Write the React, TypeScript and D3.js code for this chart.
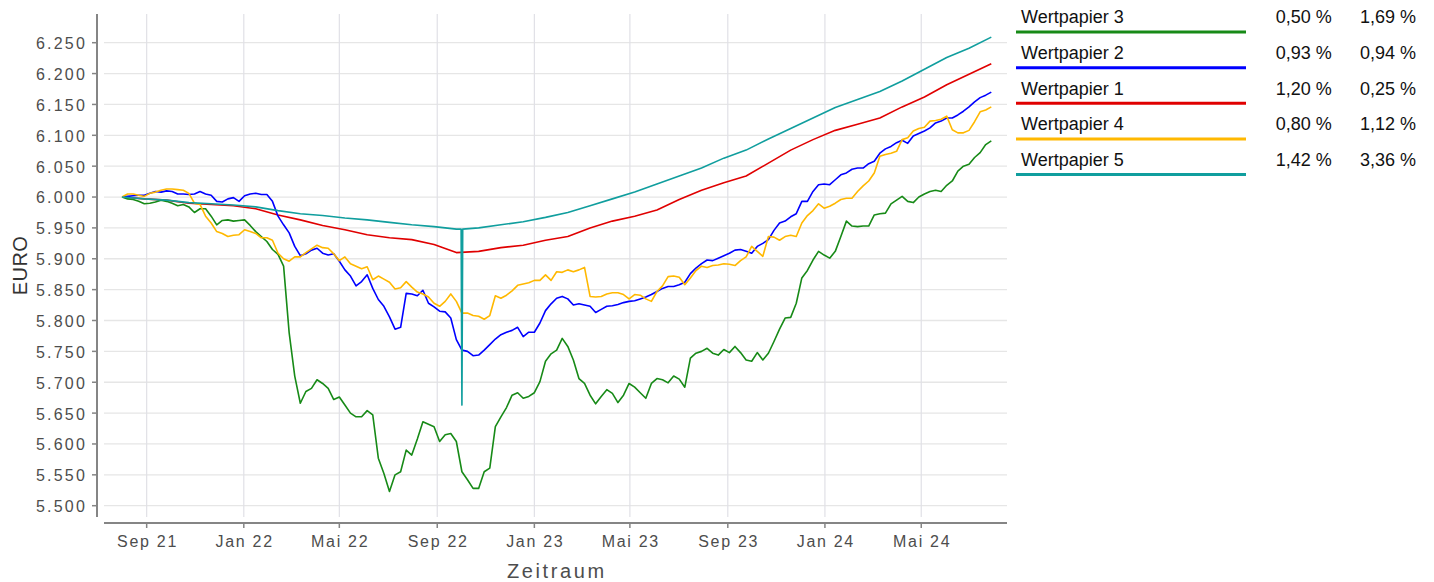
import * as d3 from "d3";

// legend rows (top to bottom)
const names = ["Wertpapier 3", "Wertpapier 2", "Wertpapier 1", "Wertpapier 4", "Wertpapier 5"];
const colors = ["#178a17", "#0000ff", "#e00000", "#ffb800", "#109e9e"];
const col1 = ["0,50 %", "0,93 %", "1,20 %", "0,80 %", "1,42 %"];
const col2 = ["1,69 %", "0,94 %", "0,25 %", "1,12 %", "3,36 %"];

const firstDate = "2021-08-01";

// weekly values (EUR)
const green = [
  6000, 5997, 5996, 5993, 5989, 5990, 5992, 5995, 5993, 5990,
  5986, 5988, 5984, 5975, 5981, 5981, 5969, 5955, 5962, 5963,
  5961, 5962, 5963, 5954, 5944, 5936, 5928, 5915, 5907, 5888,
  5780, 5710, 5666, 5685, 5690, 5704, 5698, 5690, 5672, 5676,
  5663, 5650, 5644, 5644, 5654, 5647, 5577, 5552, 5523, 5550,
  5555, 5590, 5582, 5608, 5636, 5632, 5628, 5604, 5615, 5617,
  5604, 5555, 5542, 5528, 5528, 5555, 5561, 5628, 5644, 5659,
  5679, 5683, 5674, 5677, 5683, 5701, 5734, 5746, 5752, 5771,
  5758, 5736, 5706, 5698, 5679, 5665, 5677, 5688, 5682, 5667,
  5679, 5698, 5692, 5683, 5674, 5698, 5706, 5704, 5699, 5710,
  5705, 5692, 5739, 5747, 5750, 5755, 5747, 5744, 5753, 5748,
  5758, 5748, 5736, 5734, 5748, 5736, 5747, 5766, 5786, 5804,
  5805, 5828, 5869, 5881, 5898, 5912, 5906, 5901, 5912, 5936,
  5961, 5953, 5952, 5953, 5953, 5971, 5973, 5974, 5989, 5995,
  6001, 5993, 5991, 6000, 6005, 6009, 6011, 6009, 6019, 6026,
  6042, 6050, 6053, 6064, 6072, 6085, 6091,
];

const blue = [
  6000, 6001, 6002, 6003, 6003, 6006, 6009, 6008, 6010, 6009,
  6005, 6005, 6004, 6005, 6009, 6005, 6003, 5993, 5992, 5997,
  5999, 5993, 6002, 6005, 6006, 6004, 6004, 5993, 5969, 5955,
  5942, 5920, 5905, 5908, 5914, 5917, 5909, 5906, 5908, 5896,
  5882, 5872, 5856, 5863, 5874, 5852, 5834, 5823, 5806, 5786,
  5789, 5844, 5843, 5840, 5849, 5828, 5822, 5815, 5814, 5804,
  5769, 5752, 5750, 5743, 5744, 5752, 5761, 5770, 5777, 5781,
  5784, 5789, 5774, 5781, 5781, 5796, 5816, 5827, 5836, 5839,
  5835, 5825, 5827, 5825, 5823, 5813, 5818, 5823, 5824, 5826,
  5829, 5831, 5832, 5835, 5838, 5842, 5847, 5852, 5855, 5855,
  5858, 5862, 5876, 5885, 5892, 5898, 5897, 5901, 5905, 5909,
  5914, 5915, 5912, 5909, 5920, 5925, 5931, 5946, 5958, 5961,
  5968, 5973, 5993, 5993, 6009, 6020, 6021, 6020, 6028, 6036,
  6039, 6045, 6047, 6047, 6054, 6058, 6071, 6078, 6082, 6088,
  6092, 6087, 6099, 6103, 6107, 6112, 6120, 6123, 6128, 6128,
  6133, 6139, 6146, 6154, 6161, 6165, 6170,
];

const yellow = [
  6000, 6005, 6005, 6003, 6001, 6006, 6008, 6011, 6013, 6013,
  6012, 6011, 6006, 5990, 5988, 5969, 5958, 5944, 5941, 5936,
  5938, 5939, 5947, 5944, 5941, 5934, 5934, 5930, 5909, 5900,
  5896, 5903, 5903, 5910, 5916, 5922, 5918, 5917, 5908, 5897,
  5903, 5892, 5888, 5884, 5887, 5866, 5872, 5867, 5862, 5851,
  5853, 5863, 5854, 5846, 5843, 5838, 5828, 5823, 5831, 5843,
  5831, 5812, 5812, 5808, 5807, 5802, 5808, 5840, 5836, 5841,
  5848, 5857, 5859, 5861, 5865, 5865, 5874, 5865, 5879, 5878,
  5882, 5879, 5882, 5886, 5839, 5838, 5839, 5843, 5845, 5845,
  5842, 5835, 5842, 5841, 5835, 5831, 5847, 5856, 5871, 5872,
  5870, 5858, 5869, 5881, 5888, 5886, 5889, 5890, 5892, 5891,
  5889, 5897, 5903, 5920, 5912, 5904, 5936, 5935, 5930, 5936,
  5938, 5936, 5958, 5970, 5978, 5989, 5982, 5985, 5990, 5996,
  5998, 5998, 6009, 6018, 6026, 6039, 6066, 6069, 6071, 6074,
  6093, 6096, 6107, 6111, 6113, 6123, 6124, 6126, 6131, 6109,
  6104, 6104, 6108, 6122, 6138, 6141, 6146,
];

// every 4 weeks (smooth series)
const red = [
  6000, 5997, 5995, 5990, 5988, 5986, 5981, 5971, 5963, 5954,
  5947, 5939, 5934, 5931, 5923, 5910, 5912, 5918, 5922, 5930,
  5936, 5950, 5961, 5969, 5979, 5996, 6011, 6023, 6034, 6055,
  6076, 6093, 6108, 6118, 6128, 6146, 6162, 6182, 6199, 6216,
];

const teal = [
  6000, 5997, 5995, 5991, 5989, 5987, 5984, 5978, 5973, 5970,
  5966, 5963, 5959, 5955, 5952, 5948, 5950, 5955, 5960, 5967,
  5975, 5986, 5997, 6008, 6021, 6034, 6047, 6063, 6076, 6094,
  6111, 6128, 6145, 6158, 6171, 6188, 6207, 6226, 6241, 6259,
];

// one-day outlier in Wertpapier 5
const tealSpikeDates = ["2022-10-01", "2022-10-02", "2022-10-03"];
const tealSpikeValues = [5948, 5663, 5948];

const yTicks = [5500, 5550, 5600, 5650, 5700, 5750, 5800, 5850, 5900, 5950, 6000, 6050, 6100, 6150, 6200, 6250];
const xTicks = ["2021-09-01", "2022-01-01", "2022-05-01", "2022-09-01", "2023-01-01", "2023-05-01", "2023-09-01", "2024-01-01", "2024-05-01"];

const parseDate = d3.timeParse("%Y-%m-%d");

const deTime = d3.timeFormatLocale({
  dateTime: "%A, der %e. %B %Y, %X",
  date: "%d.%m.%Y",
  time: "%H:%M:%S",
  periods: ["AM", "PM"],
  days: ["Sonntag", "Montag", "Dienstag", "Mittwoch", "Donnerstag", "Freitag", "Samstag"],
  shortDays: ["So", "Mo", "Di", "Mi", "Do", "Fr", "Sa"],
  months: ["Januar", "Februar", "März", "April", "Mai", "Juni", "Juli", "August", "September", "Oktober", "November", "Dezember"],
  shortMonths: ["Jan", "Feb", "Mär", "Apr", "Mai", "Jun", "Jul", "Aug", "Sep", "Okt", "Nov", "Dez"],
});
const fmtMonth = deTime.format("%b %y");
const fmtEuro = d3.formatLocale({ decimal: ",", thousands: ".", grouping: [3], currency: ["", " €"] }).format(",d");

type Pt = { date: Date; value: number };

export default function App() {
  const W = 1434;
  const H = 582;
  const start = parseDate(firstDate) as Date;

  const every = (vals: number[], step: number): Pt[] =>
    vals.map((v, i) => ({ date: d3.timeDay.offset(start, i * step), value: v }));

  const tealPts = every(teal, 28)
    .concat(tealSpikeDates.map((d, i) => ({ date: parseDate(d) as Date, value: tealSpikeValues[i] })))
    .sort((a, b) => +a.date - +b.date);

  // same order as legend rows
  const series: Pt[][] = [every(green, 7), every(blue, 7), every(red, 28), every(yellow, 7), tealPts];
  const drawOrder = [2, 1, 0, 3, 4];

  const lastDate = d3.timeDay.offset(start, (green.length - 1) * 7);
  const x = d3.scaleTime().domain([start, lastDate]).range([122, 991.3]);
  const y = d3.scaleLinear().domain([5500, 6250]).range([505.7, 42.7]);

  const line = d3
    .line<Pt>()
    .x((d) => x(d.date))
    .y((d) => y(d.value));

  // panel edges
  const left = 104;
  const right = 1007;
  const top = 14;
  const bottom = 517;
  const yAxisX = 97;
  const xAxisY = 523;

  const axisColor = "#858585";
  const labelColor = "#4d4d4d";

  return (
    <svg
      width={W}
      height={H}
      style={{ position: "absolute", left: 0, top: 0, background: "#fff" }}
      fontFamily="'Liberation Sans', Arial, sans-serif"
    >
      {/* grid */}
      {yTicks.map((t) => (
        <line key={"gy" + t} x1={left} x2={right} y1={y(t)} y2={y(t)} stroke="#e6e6e6" strokeWidth={1.3} />
      ))}
      {xTicks.map((t) => {
        const xx = x(parseDate(t) as Date);
        return <line key={"gx" + t} x1={xx} x2={xx} y1={top} y2={bottom} stroke="#e0e0e6" strokeWidth={1.2} />;
      })}

      {/* lines */}
      {drawOrder.map((k) => (
        <path key={"s" + k} d={line(series[k]) || ""} fill="none" stroke={colors[k]} strokeWidth={1.6} strokeLinejoin="round" />
      ))}

      {/* y axis */}
      <line x1={yAxisX} x2={yAxisX} y1={top} y2={bottom} stroke={axisColor} strokeWidth={2} />
      {yTicks.map((t) => (
        <g key={"ty" + t}>
          <line x1={yAxisX - 5} x2={yAxisX} y1={y(t)} y2={y(t)} stroke={axisColor} strokeWidth={1.5} />
          <text
            x={87}
            y={y(t)}
            dy="0.4em"
            textAnchor="end"
            fontSize={16}
            letterSpacing={2.2}
            fill={labelColor}
          >
            {fmtEuro(t)}
          </text>
        </g>
      ))}
      <text
        transform={`translate(27, ${(top + bottom) / 2}) rotate(-90)`}
        textAnchor="middle"
        fontSize={20}
        fill="#333"
        letterSpacing={0.4}
      >
        EURO
      </text>

      {/* x axis */}
      <line x1={left} x2={right} y1={xAxisY} y2={xAxisY} stroke={axisColor} strokeWidth={2} />
      {xTicks.map((t) => {
        const d = parseDate(t) as Date;
        const xx = x(d);
        return (
          <g key={"tx" + t}>
            <line x1={xx} x2={xx} y1={xAxisY} y2={xAxisY + 5} stroke={axisColor} strokeWidth={1.5} />
            <text x={xx + 0.9} y={547} textAnchor="middle" fontSize={16} letterSpacing={1.7} fill={labelColor}>
              {fmtMonth(d)}
            </text>
          </g>
        );
      })}
      <text x={(left + right) / 2 + 1.3} y={578} textAnchor="middle" fontSize={20} letterSpacing={2.6} fill={labelColor}>
        Zeitraum
      </text>

      {/* legend table */}
      {names.map((n, i) => {
        const base = 23.3 + i * 35.6;
        return (
          <g key={"lg" + i}>
            <text x={1021} y={base} fontSize={18} fill="#111">
              {n}
            </text>
            <line x1={1016} x2={1246} y1={base + 8.8} y2={base + 8.8} stroke={colors[i]} strokeWidth={3} />
            <text x={1331.7} y={base} textAnchor="end" fontSize={18} fill="#111">
              {col1[i]}
            </text>
            <text x={1416} y={base} textAnchor="end" fontSize={18} fill="#111">
              {col2[i]}
            </text>
          </g>
        );
      })}
    </svg>
  );
}
